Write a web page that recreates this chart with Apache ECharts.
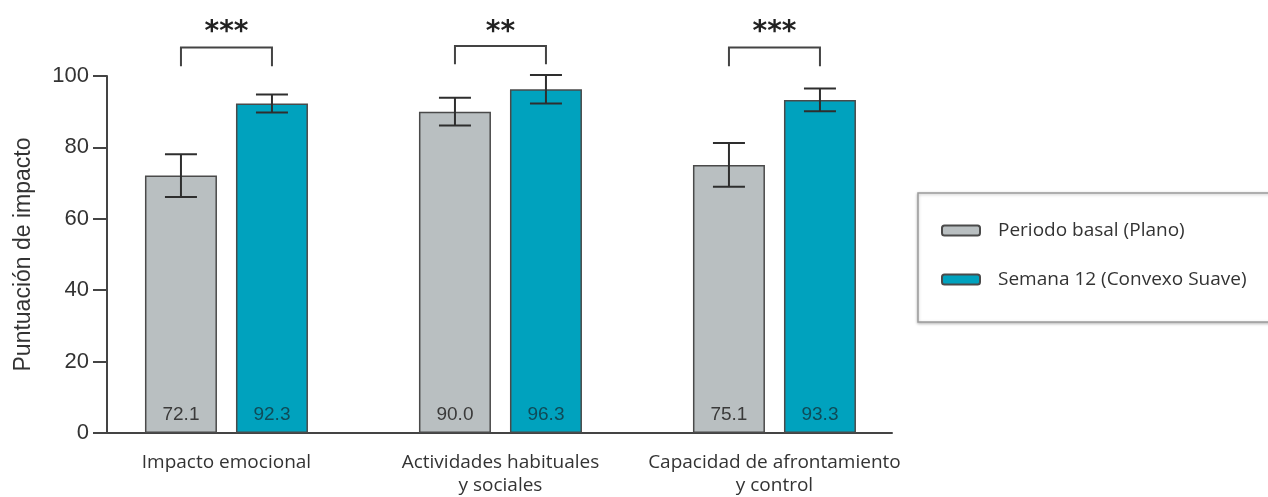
<!DOCTYPE html>
<html>
<head>
<meta charset="utf-8">
<script src="https://cdn.jsdelivr.net/npm/echarts@6/dist/echarts.min.js"></script>
<style>
html,body{margin:0;padding:0;background:#fff;}
#chart{width:1268px;height:497px;}
</style>
</head>
<body>
<div id="chart"></div>
<script>
// ---- data ----
var categories = ['Impacto emocional', 'Actividades habituales\ny sociales', 'Capacidad de afrontamiento\ny control'];
var seriesNames = ['Periodo basal (Plano)', 'Semana 12 (Convexo Suave)'];
var baselineValues = [72.1, 90.0, 75.1];
var week12Values = [92.3, 96.3, 93.3];
var baselineErrors = [6.0, 3.9, 6.1];
var week12Errors = [2.5, 4.0, 3.2];
var significance = ['***', '**', '***'];
var bracketTop = [108.0, 108.4, 108.0];
var bracketBottom = [102.7, 103.3, 102.7];
var starLevel = 112.2;
var yTicks = [0, 20, 40, 60, 80, 100];

// ---- style constants ----
var BAR_W = 72, BAR_GAP = 19;
var HALF = (BAR_W + BAR_GAP) / 2;
var GRAY = '#b9bfc1', TEAL = '#00a2be', EDGE = '#4a4a4a';

function pairs(vals) { return vals.map(function (v, i) { return [i, v]; }); }
function errData(vals, errs) { return vals.map(function (v, i) { return [i, v, errs[i]]; }); }

function errorRenderer(offset) {
  return function (params, api) {
    var x = api.value(0), m = api.value(1), e = api.value(2);
    var top = api.coord([x, m + e]);
    var bot = api.coord([x, m - e]);
    var cx = top[0] + offset;
    var cap = 16;
    var st = { stroke: '#2e2e2e', lineWidth: 2 };
    return {
      type: 'group',
      children: [
        { type: 'line', shape: { x1: cx, y1: top[1], x2: cx, y2: bot[1] }, style: st },
        { type: 'line', shape: { x1: cx - cap, y1: top[1], x2: cx + cap, y2: top[1] }, style: st },
        { type: 'line', shape: { x1: cx - cap, y1: bot[1], x2: cx + cap, y2: bot[1] }, style: st }
      ]
    };
  };
}

var chart = echarts.init(document.getElementById('chart'), null, { renderer: 'canvas' });
var option = {
  animation: false,
  backgroundColor: '#ffffff',
  grid: { left: 107, top: 76, bottom: 64, right: 376, containLabel: false },
  legend: {
    orient: 'vertical',
    left: 918, top: 193,
    data: seriesNames,
    itemWidth: 38, itemHeight: 10, itemGap: 30,
    padding: [28, 120, 33, 23],
    borderColor: '#9c9c9c', borderWidth: 1.5,
    shadowColor: 'rgba(0,0,0,0.25)', shadowBlur: 3, shadowOffsetY: 1,
    backgroundColor: '#fff',
    textStyle: { fontFamily: 'Open Sans', fontSize: 19, color: '#333', padding: [0, 0, 0, 13] },
    selectedMode: false
  },
  xAxis: {
    type: 'value',
    min: -0.436, max: 2.429,
    axisLine: { show: true, onZero: false, lineStyle: { color: '#444', width: 2 } },
    axisTick: { show: false },
    splitLine: { show: false },
    axisLabel: {
      customValues: [0, 1, 2],
      formatter: function (v) { return categories[Math.round(v)]; },
      fontFamily: 'Open Sans', fontSize: 19, color: '#333', lineHeight: 23, margin: 18
    }
  },
  yAxis: {
    type: 'value', min: 0, max: 100, interval: 20,
    name: 'Puntuación de impacto', nameLocation: 'middle', nameGap: 72,
    nameTextStyle: { fontFamily: 'Liberation Sans', fontSize: 23, color: '#333' },
    axisLine: { show: true, onZero: false, lineStyle: { color: '#444', width: 2 } },
    axisTick: { show: true, length: 14, lineStyle: { color: '#444', width: 2 } },
    splitLine: { show: false },
    axisLabel: {
      fontFamily: 'Liberation Sans', fontSize: 22, color: '#333', margin: 18,
      formatter: function (v) { return yTicks.indexOf(v) >= 0 ? String(v) : ''; }
    }
  },
  series: [
    {
      name: seriesNames[0], type: 'bar', data: pairs(baselineValues),
      barWidth: BAR_W, barGap: (BAR_GAP / BAR_W * 100).toFixed(1) + '%',
      itemStyle: { color: GRAY, borderColor: EDGE, borderWidth: 1.5 },
      label: { show: true, position: 'insideBottom', distance: 9, fontFamily: 'Liberation Sans', fontSize: 19, color: '#3a3a3a',
        formatter: function (p) { return p.value[1].toFixed(1); } }
    },
    {
      name: seriesNames[1], type: 'bar', data: pairs(week12Values),
      barWidth: BAR_W,
      itemStyle: { color: TEAL, borderColor: EDGE, borderWidth: 1.5 },
      label: { show: true, position: 'insideBottom', distance: 9, fontFamily: 'Liberation Sans', fontSize: 19, color: '#0f4b58',
        formatter: function (p) { return p.value[1].toFixed(1); } }
    },
    {
      type: 'custom', name: 'errBase', data: errData(baselineValues, baselineErrors),
      renderItem: errorRenderer(-HALF), z: 5, clip: false, silent: true
    },
    {
      type: 'custom', name: 'errWeek', data: errData(week12Values, week12Errors),
      renderItem: errorRenderer(HALF), z: 5, clip: false, silent: true
    },
    {
      type: 'custom', name: 'brackets', clip: false, silent: true, z: 5,
      data: categories.map(function (c, i) { return [i, bracketTop[i], bracketBottom[i], starLevel]; }),
      renderItem: function (params, api) {
        var x = api.value(0);
        var t = api.coord([x, api.value(1)]);
        var b = api.coord([x, api.value(2)]);
        var s = api.coord([x, api.value(3)]);
        return {
          type: 'group',
          children: [
            { type: 'polyline', shape: { points: [[t[0] - HALF, b[1]], [t[0] - HALF, t[1]], [t[0] + HALF, t[1]], [t[0] + HALF, b[1]]] },
              style: { stroke: '#444', lineWidth: 2, fill: null } },
            { type: 'text', x: s[0], y: s[1],
              style: { text: significance[params.dataIndex], fontFamily: 'DejaVu Sans', fontWeight: 'bold', fontSize: 28,
                fill: '#222', align: 'center', verticalAlign: 'middle' } }
          ]
        };
      }
    }
  ]
};
chart.setOption(option);
</script>
</body>
</html>
